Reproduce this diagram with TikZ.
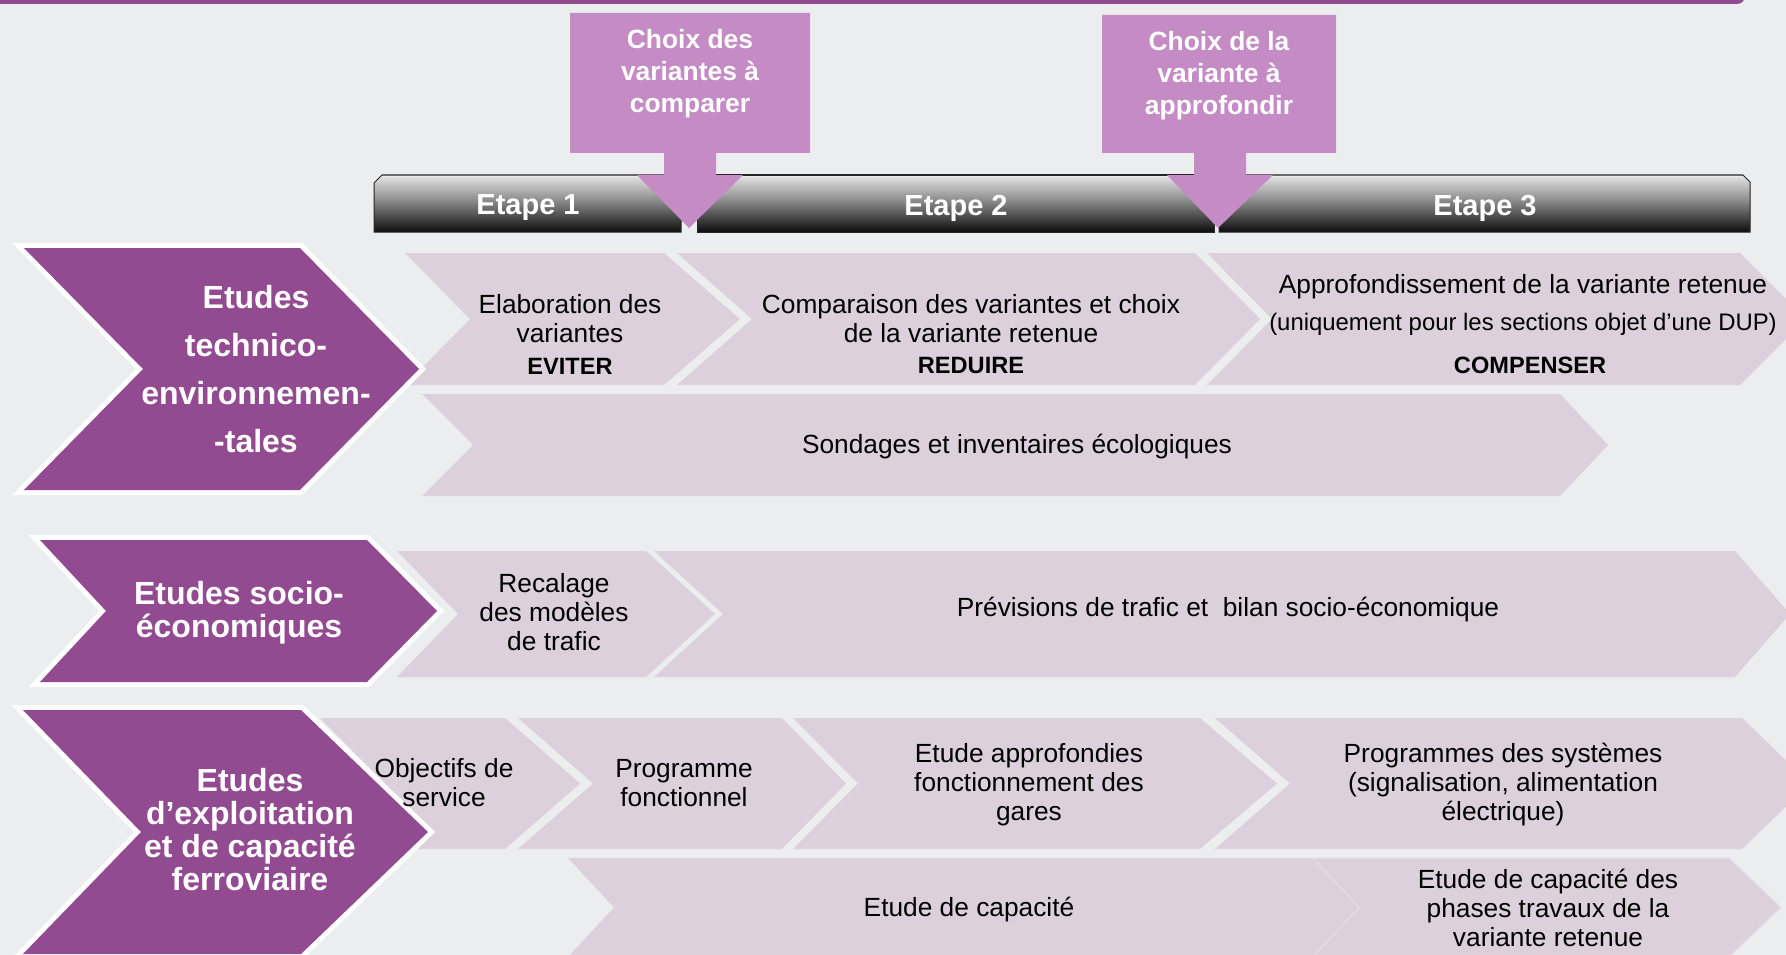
\documentclass[tikz,border=0pt]{standalone}
\usepackage{fontspec}
\setmainfont{Liberation Sans}
\definecolor{bg}{HTML}{ECEDEF}
\definecolor{pur}{HTML}{924A90}
\definecolor{lav}{HTML}{DCD0DD}
\definecolor{callc}{HTML}{C48BC4}
\newcommand\mychev[7][]{%
  \path[#1] (#2,#4) -- (#3,#4) -- (#7,{(#4+#5)/2}) -- (#3,#5) -- (#2,#5) -- (#6,{(#4+#5)/2}) -- cycle;}
\tikzset{
  lchev/.style={fill=lav},
  pchev/.style={fill=pur, preaction={draw=white, line width=10pt, line join=miter}},
  barshade/.style={top color=black!10, bottom color=black!95, middle color=black!50, draw=black!85, line width=1pt},
  calloutshape/.style={fill=callc},
  lbl/.style={text=white, align=center, inner sep=0pt},
  txt/.style={text=black, align=center, inner sep=0pt, font=\fontsize{26.3}{29}\selectfont},
  bold/.style={text=black, align=center, inner sep=0pt, font=\bfseries\fontsize{23.6}{28}\selectfont},
  etapetxt/.style={text=white, inner sep=0pt, font=\bfseries\fontsize{29}{32}\selectfont},
  calltxt/.style={text=white, align=center, inner sep=0pt, font=\bfseries\fontsize{26.4}{32}\selectfont}
}
\begin{document}
\begin{tikzpicture}[x=1pt,y=-1pt]
\useasboundingbox (0,0) rectangle (1786,955);
\clip (0,0) rectangle (1786,955);
\fill[bg] (0,0) rectangle (1786,955);
% top band
\fill[pur, rounded corners=8pt] (-20,-20) rectangle (1745,4);
% etape bars
\shade[barshade] (382,175) -- (681,175) -- (681,232) -- (374,232) -- (374,183) -- cycle;
\shade[barshade] (697,175) rectangle (1214,232);
\shade[barshade] (1219,175) -- (1743,175) -- (1750,182) -- (1750,232) -- (1219,232) -- cycle;
\draw[white!85!gray, line width=1.5pt] (383,176.5) -- (680,176.5);
\draw[white!85!gray, line width=1.5pt] (698,176.5) -- (1213,176.5);
\draw[white!85!gray, line width=1.5pt] (1220,176.5) -- (1742,176.5);
% callouts
\path[calloutshape] (570,13) -- (810,13) -- (810,153) -- (716,153) -- (716,175) -- (743,175) -- (689,228) -- (637,175) -- (664,175) -- (664,153) -- (570,153) -- cycle;
\path[calloutshape] (1102,15) -- (1336,15) -- (1336,153) -- (1246,153) -- (1246,175) -- (1273,175) -- (1218,228) -- (1167,175) -- (1194,175) -- (1194,153) -- (1102,153) -- cycle;
% light chevrons row 1
\mychev[lchev]{405}{664}{253}{385}{470}{740}
\mychev[lchev]{677}{1195}{253}{385}{752}{1260}
\mychev[lchev]{1207}{1740}{253}{385}{1272}{1806}
\mychev[lchev]{422}{1560}{394}{496}{473}{1608}
% row 2
\mychev[lchev]{397}{646}{551}{677}{458}{715}
\mychev[lchev]{654}{1735}{551}{677}{723}{1790}
% row 3
\mychev[lchev]{320}{505}{718}{849}{385}{580}
\mychev[lchev]{518}{782}{718}{849}{593}{846}
\mychev[lchev]{793}{1200}{718}{849}{858}{1277}
\mychev[lchev]{1215}{1742}{718}{849}{1290}{1810}
\mychev[lchev]{568}{1330}{858}{957}{614}{1380}
\mychev[lchev, draw=white!30!lav, line width=1pt]{1313}{1729}{858}{957}{1359}{1781}
% purple chevrons
\mychev[pchev]{24}{300}{248}{490}{143}{419}
\mychev[pchev]{40}{367}{540}{682}{106}{437}
\mychev[pchev]{23}{301}{710}{954}{141}{428}
% labels
\node[lbl, font=\bfseries\fontsize{32}{48}\selectfont] (lab1) at (256,369) {Etudes\\technico-\\environnemen-\\-tales};
\node[lbl, font=\bfseries\fontsize{32}{33}\selectfont] (lab2) at (239,613) {Etudes socio-\\économiques};
\node[lbl, font=\bfseries\fontsize{32}{33}\selectfont] (lab3) at (250,830) {Etudes\\d’exploitation\\et de capacité\\ferroviaire};
% etapes
\node[etapetxt] (et1) at (528,208) {Etape 1};
\node[etapetxt] (et2) at (956,208) {Etape 2};
\node[etapetxt] (et3) at (1485,208) {Etape 3};
% callout texts
\node[calltxt] (c1) at (690,73.5) {Choix des\\variantes à\\comparer};
\node[calltxt] (c2) at (1219,75.5) {Choix de la\\variante à\\approfondir};
% row 1 texts
\node[txt] (telab) at (570,318.5) {Elaboration des\\variantes};
\node[bold] (teviter) at (570,366) {EVITER};
\node[txt] (tcomp) at (971,319) {Comparaison des variantes et choix\\de la variante retenue};
\node[bold] (treduire) at (971,365) {REDUIRE};
\node[txt] (tappro) at (1523,286.5) {Approfondissement de la variante retenue};
\node[txt, font=\fontsize{23.9}{28}\selectfont] (tuniq) at (1523,324) {(uniquement pour les sections objet d’une DUP)};
\node[bold] (tcompens) at (1530,365) {COMPENSER};
\node[txt] (tsond) at (1017,447) {Sondages et inventaires écologiques};
% row 2 texts
\node[txt] (trecal) at (554,612.5) {Recalage\\des modèles\\de trafic};
\node[txt] (tprev) at (1228,610) {Prévisions de trafic et \ bilan socio-économique};
% row 3 texts
\node[txt] (tobj) at (444,783) {Objectifs de\\service};
\node[txt] (tprog) at (684,783) {Programme\\fonctionnel};
\node[txt] (tgares) at (1029,785) {Etude approfondies\\fonctionnement des\\gares};
\node[txt] (tsys) at (1503,785) {Programmes des systèmes\\(signalisation, alimentation\\électrique)};
\node[txt] (tcapa) at (969,910) {Etude de capacité};
\node[txt] (tphases) at (1548,907.5) {Etude de capacité des\\phases travaux de la\\variante retenue};
\end{tikzpicture}
\end{document}
